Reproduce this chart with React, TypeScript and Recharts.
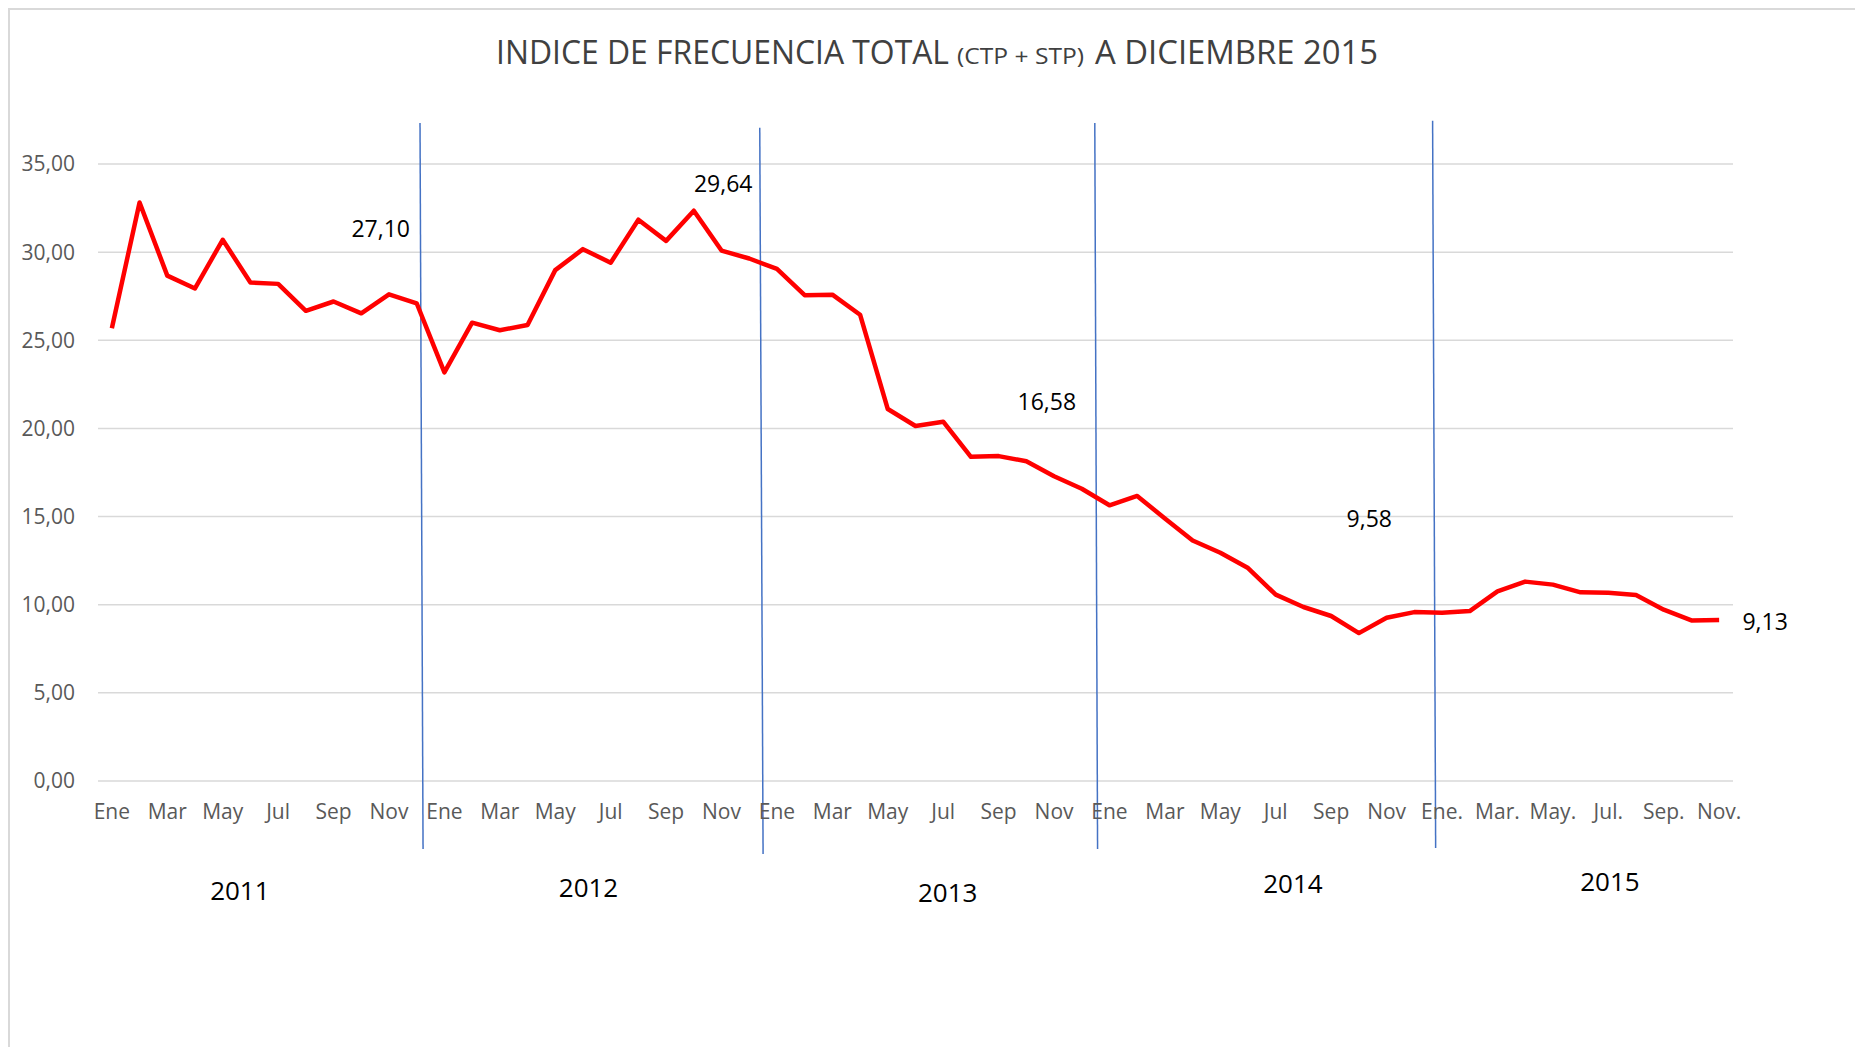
import React from 'react';
import { LineChart, Line, XAxis, YAxis, CartesianGrid, ReferenceLine, ReferenceDot } from 'recharts';

// ---------- data ----------
const years = [2011, 2012, 2013, 2014, 2015];
const monthNames = ['Ene', 'Feb', 'Mar', 'Abr', 'May', 'Jun', 'Jul', 'Ago', 'Sep', 'Oct', 'Nov', 'Dic'];

const values2011 = [25.68, 32.82, 28.67, 27.94, 30.7, 28.28, 28.2, 26.67, 27.2, 26.53, 27.61, 27.1];
const values2012 = [23.18, 26.0, 25.57, 25.87, 28.98, 30.17, 29.4, 31.84, 30.64, 32.35, 30.09, 29.64];
const values2013 = [29.05, 27.56, 27.59, 26.45, 21.1, 20.14, 20.38, 18.39, 18.43, 18.14, 17.29, 16.58];
const values2014 = [15.64, 16.17, 14.89, 13.64, 12.95, 12.08, 10.57, 9.87, 9.36, 8.39, 9.26, 9.58];
const values2015 = [9.55, 9.64, 10.76, 11.31, 11.14, 10.7, 10.68, 10.55, 9.72, 9.11, 9.13];
const valuesByYear = [values2011, values2012, values2013, values2014, values2015];

const tickLabels2011to2014 = ['Ene', 'Mar', 'May', 'Jul', 'Sep', 'Nov'];
const tickLabels2015 = ['Ene.', 'Mar.', 'May.', 'Jul.', 'Sep.', 'Nov.'];
const yTicks = [0, 5, 10, 15, 20, 25, 30, 35];

const labeledPoints = [11, 23, 35, 47, 58];

const titleMain = 'INDICE DE FRECUENCIA TOTAL';
const titleSmall = '(CTP + STP)';
const titleEnd = 'A DICIEMBRE 2015';

// ---------- layout / style (not data) ----------
const labelOffsets: Record<number, [number, number]> = {
  11: [-36, -75],
  23: [-26, -75],
  35: [-35, -88],
  47: [-45, -94],
  58: [46, 1],
};

// year divider lines in axis units (x = month index, y = value)
const yearDividers = [
  { x1: 11.12, y1: 37.32, x2: 11.23, y2: -3.86 },
  { x1: 23.38, y1: 37.05, x2: 23.5, y2: -4.14 },
  { x1: 35.47, y1: 37.32, x2: 35.57, y2: -3.86 },
  { x1: 47.66, y1: 37.46, x2: 47.77, y2: -3.8 },
];
const yearLabelPos = [
  { x: 4.62, y: -6.24 },
  { x: 17.2, y: -6.04 },
  { x: 30.16, y: -6.35 },
  { x: 42.62, y: -5.81 },
  { x: 54.06, y: -5.71 },
];

const data = years.flatMap((year, yi) =>
  valuesByYear[yi].map((v, mi) => ({ idx: yi * 12 + mi, mes: `${monthNames[mi]} ${year}`, value: v }))
);
const xTicks = data.filter((d) => d.idx % 2 === 0).map((d) => d.idx);

const tickLabelFor = (idx: number) => {
  const yi = Math.floor(idx / 12);
  const k = Math.floor((idx % 12) / 2);
  return (years[yi] === 2015 ? tickLabels2015 : tickLabels2011to2014)[k];
};
const fmt = (v: number) => v.toFixed(2).replace('.', ',');

const FONT = '"Open Sans", "Liberation Sans", sans-serif';

const LabelDot = (props: any) => {
  const { cx, cy, payload, index } = props;
  const idx = payload?.idx;
  if (!labeledPoints.includes(idx)) return <g key={`d${index}`} />;
  const [dx, dy] = labelOffsets[idx];
  return (
    <text
      key={`d${index}`}
      x={cx + dx}
      y={cy + dy}
      textAnchor="middle"
      dominantBaseline="central"
      fontFamily={FONT}
      fontSize={23}
      fill="#000"
    >
      {fmt(payload.value)}
    </text>
  );
};

export default function App() {
  return (
    <div style={{ position: 'absolute', left: 0, top: 0, width: 1855, height: 1047, background: '#fff', overflow: 'hidden' }}>
      <div style={{ position: 'absolute', left: 0, top: 0 }}>
        <LineChart width={1855} height={1047} data={data} margin={{ top: 164, right: 122, left: 0, bottom: 0 }}>
          <CartesianGrid vertical={false} stroke="#D9D9D9" strokeWidth={1.5} />
          <XAxis
            dataKey="idx"
            type="number"
            domain={[-0.5, 58.5]}
            ticks={xTicks}
            interval={0}
            tickFormatter={tickLabelFor}
            axisLine={false}
            tickLine={false}
            tickSize={0}
            tickMargin={23}
            height={266}
            tick={{ fontFamily: FONT, fontSize: 21, fill: '#595959' }}
          />
          <YAxis
            type="number"
            domain={[0, 35]}
            ticks={yTicks}
            tickFormatter={fmt}
            axisLine={false}
            tickLine={false}
            tickSize={0}
            tickMargin={23}
            width={98}
            tick={{ fontFamily: FONT, fontSize: 21, fill: '#595959' }}
          />
          {yearDividers.map((d, i) => (
            <ReferenceLine
              key={`div${i}`}
              segment={[
                { x: d.x1, y: d.y1 },
                { x: d.x2, y: d.y2 },
              ]}
              ifOverflow="visible"
              stroke="#4472C4"
              strokeWidth={1.5}
            />
          ))}
          <Line
            dataKey="value"
            type="linear"
            stroke="#FF0000"
            strokeWidth={4.5}
            strokeLinejoin="round"
            dot={LabelDot}
            activeDot={false}
            isAnimationActive={false}
          />
          {years.map((y, i) => (
            <ReferenceDot
              key={`yl${y}`}
              x={yearLabelPos[i].x}
              y={yearLabelPos[i].y}
              r={0}
              fill="none"
              stroke="none"
              ifOverflow="visible"
              label={{ value: String(y), position: 'center', fontFamily: FONT, fontSize: 26, fill: '#000' }}
            />
          ))}
        </LineChart>
      </div>
      <svg
        width={1855}
        height={1047}
        style={{ position: 'absolute', left: 0, top: 0, pointerEvents: 'none' }}
      >
        <line x1={8} y1={9} x2={1855} y2={9} stroke="#D9D9D9" strokeWidth={2} />
        <line x1={9} y1={8} x2={9} y2={1047} stroke="#D9D9D9" strokeWidth={2} />
        <g fontFamily={FONT} fill="#404040">
          <text x={496} y={64} fontSize={32} textLength={453} lengthAdjust="spacingAndGlyphs">
            {titleMain}
          </text>
          <text x={957} y={64} fontSize={21} textLength={127} lengthAdjust="spacingAndGlyphs">
            {titleSmall}
          </text>
          <text x={1095} y={64} fontSize={32} textLength={283} lengthAdjust="spacingAndGlyphs">
            {titleEnd}
          </text>
        </g>
      </svg>
    </div>
  );
}
